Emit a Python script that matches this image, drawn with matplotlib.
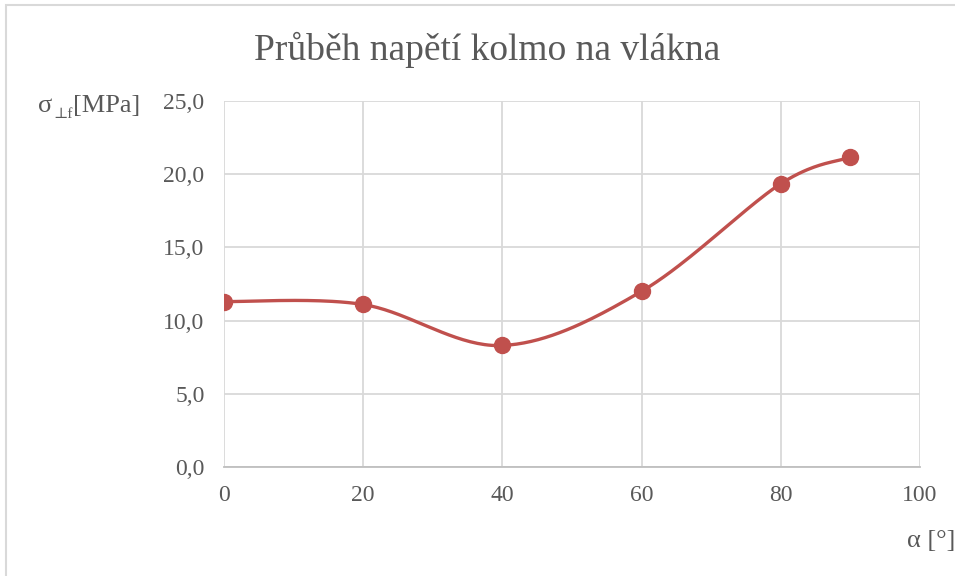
import numpy as np
import matplotlib
matplotlib.use("Agg")
import matplotlib.pyplot as plt
from matplotlib.patches import Rectangle

title = "Průběh napětí kolmo na vlákna"
x_vals = [0, 20, 40, 60, 80, 90]
y_vals = [11.3, 11.1, 8.3, 12.0, 19.35, 21.15]
x_ticks = [0, 20, 40, 60, 80, 100]
y_ticks = [0, 5, 10, 15, 20, 25]
y_tick_labels = ["0,0", "5,0", "10,0", "15,0", "20,0", "25,0"]

FONT = ["Liberation Serif", "DejaVu Serif"]
plt.rcParams['font.family'] = FONT

W, H = 955, 576
fig = plt.figure(figsize=(W / 100, H / 100), dpi=100)
ax = fig.add_axes([224 / W, 1 - 467 / H, (920 - 224) / W, (467 - 101) / H])

# Excel-like smoothing (Catmull-Rom -> Bezier)
def smooth(xs, ys, n=40):
    P = np.column_stack([xs, ys]).astype(float)
    out = []
    for i in range(len(P) - 1):
        p0 = P[i - 1] if i > 0 else P[i]
        p1 = P[i]
        p2 = P[i + 1]
        p3 = P[i + 2] if i + 2 < len(P) else P[i + 1]
        c1 = p1 + (p2 - p0) / 6
        c2 = p2 - (p3 - p1) / 6
        t = np.linspace(0, 1, n)[:, None]
        seg = ((1 - t) ** 3) * p1 + 3 * ((1 - t) ** 2) * t * c1 + 3 * (1 - t) * t ** 2 * c2 + t ** 3 * p2
        out.append(seg if i == 0 else seg[1:])
    return np.vstack(out)

S = smooth(x_vals, y_vals)
color = "#C0504D"
ax.plot(S[:, 0], S[:, 1], color=color, lw=2.4, solid_capstyle="round", zorder=3)
ax.plot(x_vals, y_vals, "o", color=color, ms=11.5, zorder=4)

ax.set_xlim(0, 100)
ax.set_ylim(0, 25)
ax.set_xticks(x_ticks)
ax.set_xticklabels([str(v) for v in x_ticks])
ax.set_yticks(y_ticks)
ax.set_yticklabels(y_tick_labels)
ax.grid(True, color="#D9D9D9", lw=1.3)
ax.set_axisbelow(True)
for s in ["top", "right", "left"]:
    ax.spines[s].set_visible(False)
ax.spines["bottom"].set_color("#BFBFBF")
ax.spines["bottom"].set_linewidth(1.3)
ax.tick_params(length=0, labelsize=17, colors="#595959")
ax.tick_params(axis="y", pad=14)
ax.tick_params(axis="x", pad=13)

fig.text(487 / W, 1 - 50 / H, title, ha="center", va="center", fontsize=27, color="#595959")
fig.text(931 / W, 1 - 541 / H, "α [°]", ha="center", va="center", fontsize=19, color="#595959")
fig.text(38 / W, 1 - 106 / H, "σ", ha="left", va="center", fontsize=19, color="#595959")
fig.text(53 / W, 1 - 114 / H, "⊥f", ha="left", va="center", fontsize=11, color="#595959")
fig.text(73 / W, 1 - 106 / H, "[MPa]", ha="left", va="center", fontsize=19, color="#595959")

fig.patches.append(Rectangle((6 / W, -0.1), 1.2, 1 - 5 / H + 0.1, transform=fig.transFigure,
                             fill=False, edgecolor="#D9D9D9", lw=1.5))

fig.savefig("out.png", dpi=100)
